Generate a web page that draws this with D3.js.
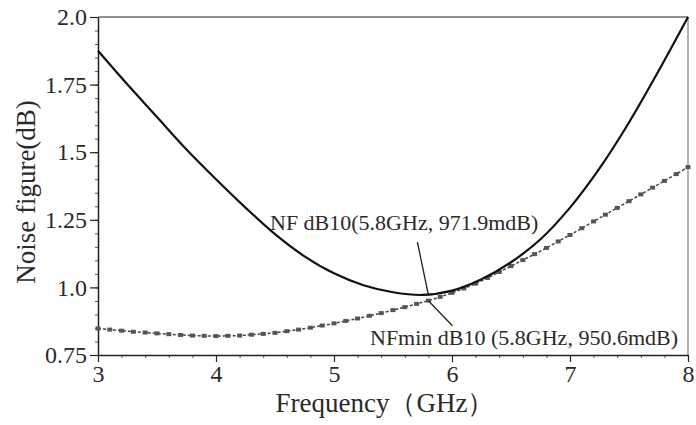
<!DOCTYPE html>
<html>
<head>
<meta charset="utf-8">
<script src="https://cdn.jsdelivr.net/npm/d3@7"></script>
<style>
  body { margin: 0; background: #fff; }
  svg text { font-family: "Liberation Serif", "Times New Roman", serif; fill: #2a2a2a; }
</style>
</head>
<body>
<div id="chart"></div>
<script>
var width = 696,
    height = 425;

// NF curve (GHz, dB)
var nfFreq = [3.0, 3.25, 3.5, 3.75, 4.0, 4.25, 4.5, 4.75, 5.0, 5.25, 5.5, 5.75, 6.0, 6.25, 6.5, 6.75, 7.0, 7.25, 7.5, 7.75, 8.0];
var nfVal  = [1.875, 1.75, 1.63, 1.51, 1.40, 1.295, 1.197, 1.115, 1.052, 1.008, 0.982, 0.972, 0.988, 1.03, 1.093, 1.178, 1.295, 1.44, 1.61, 1.80, 2.0];

// NFmin curve, one value each 0.1 GHz from 3 to 8
var nfminFreq = d3.range(51).map(function(i) { return +(3 + i * 0.1).toFixed(1); });
var nfminVal = [0.848, 0.844, 0.840, 0.836, 0.833, 0.830, 0.827, 0.824, 0.822, 0.821,
                0.820, 0.821, 0.822, 0.825, 0.828, 0.832, 0.838, 0.844, 0.851, 0.859,
                0.867, 0.876, 0.885, 0.895, 0.905, 0.916, 0.927, 0.939, 0.951, 0.965,
                0.980, 0.996, 1.014, 1.035, 1.057, 1.079, 1.101, 1.123, 1.146, 1.170,
                1.194, 1.219, 1.244, 1.269, 1.294, 1.319, 1.344, 1.369, 1.394, 1.419,
                1.445];

var xTicks = [3, 4, 5, 6, 7, 8];
var yTicks = [0.75, 1.0, 1.25, 1.5, 1.75, 2.0];
var yTickLabels = ["0.75", "1.0", "1.25", "1.5", "1.75", "2.0"];

var markerFreq = 5.8;
var nfMarkerVal = 0.9719,
    nfminMarkerVal = 0.9506;
var nfLabel = "NF dB10(5.8GHz, 971.9mdB)";
var nfminLabel = "NFmin dB10 (5.8GHz, 950.6mdB)";

var plotL = 98, plotR = 688, plotT = 17, plotB = 355;
var serif = "'Liberation Serif', 'Times New Roman', serif";

var x = d3.scaleLinear().domain([3, 8]).range([plotL, plotR]);
var y = d3.scaleLinear().domain([0.75, 2.0]).range([plotB, plotT]);

var svg = d3.select("#chart").append("svg")
    .attr("width", width)
    .attr("height", height);

// frame top/right
svg.append("line").attr("x1", plotL).attr("x2", plotR).attr("y1", plotT).attr("y2", plotT)
    .attr("stroke", "#6a6a6a").attr("stroke-width", 1.5);
svg.append("line").attr("x1", plotR).attr("x2", plotR).attr("y1", plotT).attr("y2", plotB)
    .attr("stroke", "#9a9a9a").attr("stroke-width", 1.5);

// minor ticks
svg.append("g")
    .attr("transform", "translate(0," + plotB + ")")
    .call(d3.axisBottom(x).tickValues(d3.range(3, 8.01, 0.2)).tickSize(3).tickFormat(""))
    .call(function(g) { g.select(".domain").remove(); g.selectAll("line").attr("stroke", "#555"); });
svg.append("g")
    .attr("transform", "translate(" + plotL + ",0)")
    .call(d3.axisLeft(y).tickValues(d3.range(0.75, 2.001, 0.05)).tickSize(3).tickFormat(""))
    .call(function(g) { g.select(".domain").remove(); g.selectAll("line").attr("stroke", "#555"); });

// major axes
var xAxis = svg.append("g")
    .attr("transform", "translate(0," + plotB + ")")
    .call(d3.axisBottom(x).tickValues(xTicks).tickSize(7).tickSizeOuter(0).tickPadding(3).tickFormat(d3.format("d")))
    .attr("font-family", serif).attr("font-size", 24);
xAxis.select(".domain").attr("stroke", "#222").attr("stroke-width", 1.5);
xAxis.selectAll("line").attr("stroke", "#222").attr("stroke-width", 1.2);
xAxis.selectAll("text").style("font-family", serif).style("font-size", "24px").attr("fill", "#2a2a2a");

var yAxis = svg.append("g")
    .attr("transform", "translate(" + plotL + ",0)")
    .call(d3.axisLeft(y).tickValues(yTicks).tickSize(8).tickSizeOuter(0).tickPadding(3)
      .tickFormat(function(d, i) { return yTickLabels[i]; }))
    .attr("font-family", serif).attr("font-size", 24);
yAxis.select(".domain").attr("stroke", "#222").attr("stroke-width", 1.5);
yAxis.selectAll("line").attr("stroke", "#222").attr("stroke-width", 1.2);
yAxis.selectAll("text").style("font-family", serif).style("font-size", "24px").attr("fill", "#2a2a2a");

// axis titles
svg.append("text")
    .attr("x", 385).attr("y", 412)
    .attr("text-anchor", "middle")
    .style("font-size", "27px")
    .text("Frequency（GHz）");

svg.append("text")
    .attr("transform", "translate(35," + 192 + ") rotate(-90)")
    .attr("text-anchor", "middle")
    .style("font-size", "27px")
    .text("Noise figure(dB)");

// curves
var nfData = nfFreq.map(function(f, i) { return [f, nfVal[i]]; });
var nfminData = nfminFreq.map(function(f, i) { return [f, nfminVal[i]]; });

var line = d3.line()
    .x(function(d) { return x(d[0]); })
    .y(function(d) { return y(d[1]); })
    .curve(d3.curveCatmullRom.alpha(0.5));

svg.append("path")
    .datum(nfminData)
    .attr("fill", "none")
    .attr("stroke", "#444")
    .attr("stroke-width", 1.5)
    .attr("stroke-dasharray", "3,2")
    .attr("d", line);

svg.selectAll(".nfmin-mark")
    .data(nfminData)
    .enter().append("rect")
    .attr("class", "nfmin-mark")
    .attr("x", function(d) { return x(d[0]) - 2.5; })
    .attr("y", function(d) { return y(d[1]) - 2; })
    .attr("width", 5)
    .attr("height", 4)
    .attr("fill", "#555");

svg.append("path")
    .datum(nfData)
    .attr("fill", "none")
    .attr("stroke", "#111")
    .attr("stroke-width", 2.2)
    .attr("d", line);

// annotations
var mx = x(markerFreq);
svg.append("line")
    .attr("x1", mx).attr("y1", y(nfMarkerVal))
    .attr("x2", mx - 11).attr("y2", y(nfMarkerVal) - 53)
    .attr("stroke", "#222").attr("stroke-width", 1.3);
svg.append("line")
    .attr("x1", mx).attr("y1", y(nfminMarkerVal))
    .attr("x2", mx + 24).attr("y2", y(nfminMarkerVal) + 25)
    .attr("stroke", "#222").attr("stroke-width", 1.3);

svg.append("text")
    .attr("x", 270).attr("y", 230)
    .style("font-size", "22px")
    .text(nfLabel);
svg.append("text")
    .attr("x", 370).attr("y", 345)
    .style("font-size", "22px")
    .text(nfminLabel);
</script>
</body>
</html>
